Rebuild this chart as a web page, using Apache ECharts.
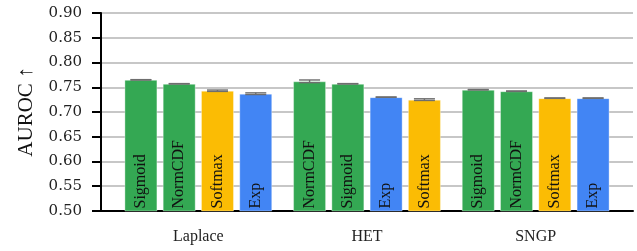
<!DOCTYPE html>
<html>
<head>
<meta charset="utf-8">
<script src="https://cdn.jsdelivr.net/npm/echarts@6/dist/echarts.min.js"></script>
<style>
html,body{margin:0;padding:0;background:#fff}
#main{width:637px;height:251px}
</style>
</head>
<body>
<div id="main"></div>
<script>
var groups = ['Laplace', 'HET', 'SNGP'];
var methods = ['Sigmoid', 'NormCDF', 'Softmax', 'Exp'];
var methodColors = ['#34a853', '#34a853', '#fbbc04', '#4285f4'];
// mean AUROC, methods order
var laplaceMean = [0.765, 0.757, 0.743, 0.737];
var hetMean = [0.757, 0.762, 0.725, 0.730];
var sngpMean = [0.745, 0.742, 0.728, 0.728];
// std error
var laplaceErr = [0.0004, 0.0004, 0.0014, 0.0017];
var hetErr = [0.0004, 0.0027, 0.0017, 0.0004];
var sngpErr = [0.0004, 0.0005, 0.0005, 0.0005];

var means = [laplaceMean, hetMean, sngpMean];
var errs = [laplaceErr, hetErr, sngpErr];

var barW = 33;
var gapRatio = 0.16;
var pitch = barW * (1 + gapRatio);
var serif = '"Liberation Serif", "Times New Roman", serif';

// bars sorted by mean inside each group
var ranked = means.map(function(m){
	var idx = [0, 1, 2, 3];
	idx.sort(function(a, b){ return m[b] - m[a]; });
	return idx;
});

var barSeries = [];
var errData = [];
for (var r = 0; r < 4; r++) {
	var data = [];
	for (var g = 0; g < groups.length; g++) {
		var mi = ranked[g][r];
		data.push({
			value: means[g][mi],
			method: methods[mi],
			itemStyle: { color: methodColors[mi] }
		});
		errData.push([g, r, means[g][mi], errs[g][mi]]);
	}
	barSeries.push({
		type: 'bar',
		xAxisIndex: 1,
		yAxisIndex: 1,
		barWidth: barW,
		barGap: (gapRatio * 100) + '%',
		itemStyle: {
			borderColor: 'rgba(255,255,255,0.35)',
			borderWidth: 1
		},
		label: {
			show: true,
			position: 'insideBottom',
			rotate: 90,
			align: 'left',
			verticalAlign: 'middle',
			distance: 3,
			fontFamily: serif,
			fontSize: 16,
			color: '#111',
			formatter: function(p){ return p.data.method; }
		},
		data: data
	});
}

var myChart = echarts.init(document.getElementById('main'));
var option = {
	animation: false,
	grid: [
		{ left: 101, right: 4, top: 13, bottom: 40 },
		{ left: 114, right: 17, top: 13, bottom: 40 }
	],
	xAxis: [
		{
			type: 'value',
			gridIndex: 0,
			min: 0,
			max: 1,
			axisLine: { show: true, onZero: false, lineStyle: { color: '#000', width: 2 } },
			axisTick: { show: false },
			axisLabel: { show: false },
			splitLine: { show: false }
		},
		{
			type: 'category',
			gridIndex: 1,
			data: groups,
			axisLine: { show: false },
			axisTick: { show: false },
			axisLabel: {
				margin: 18,
				fontFamily: serif,
				fontSize: 16,
				color: '#222'
			}
		}
	],
	yAxis: [
		{
			type: 'value',
			gridIndex: 0,
			min: 0.5,
			max: 0.9,
			interval: 0.05,
			name: 'AUROC \u2191',
			nameLocation: 'middle',
			nameGap: 64,
			nameTextStyle: { fontFamily: serif, fontSize: 21, color: '#111' },
			axisLine: { show: true, lineStyle: { color: '#000', width: 2 } },
			axisTick: { show: true, length: 9, lineStyle: { color: '#000', width: 2 } },
			axisLabel: {
				margin: 19,
				fontFamily: '"DejaVu Serif", serif',
				fontSize: 15,
				color: '#222',
				formatter: function(v){ return v.toFixed(2); }
			},
			splitLine: { lineStyle: { color: '#b4b4b4', width: 1.5 } }
		},
		{
			type: 'value',
			gridIndex: 1,
			min: 0.5,
			max: 0.9,
			show: false
		}
	],
	series: barSeries.concat([{
		type: 'custom',
		xAxisIndex: 1,
		yAxisIndex: 1,
		encode: { x: 0, y: 2 },
		z: 5,
		renderItem: function(params, api){
			var g = api.value(0), r = api.value(1), m = api.value(2), e = api.value(3);
			var c = api.coord([g, m]);
			var x = c[0] + (r - 1.5) * pitch;
			var lo = api.coord([g, m - e])[1];
			var hi = api.coord([g, m + e])[1];
			var hw = 10.5;
			var st = { stroke: '#6e6e6e', lineWidth: 1.4 };
			return {
				type: 'group',
				children: [
					{ type: 'line', shape: { x1: x, y1: lo, x2: x, y2: hi }, style: st },
					{ type: 'line', shape: { x1: x - hw, y1: lo, x2: x + hw, y2: lo }, style: st },
					{ type: 'line', shape: { x1: x - hw, y1: hi, x2: x + hw, y2: hi }, style: st }
				]
			};
		},
		data: errData
	}])
};
myChart.setOption(option);
</script>
</body>
</html>
